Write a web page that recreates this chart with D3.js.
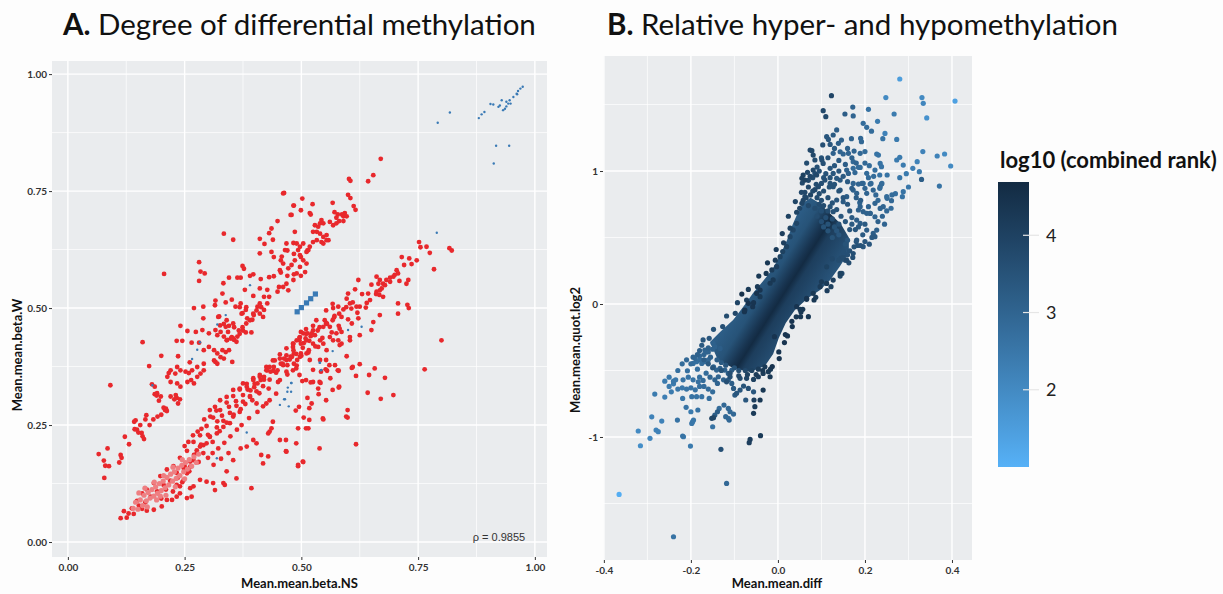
<!DOCTYPE html>
<html>
<head>
<meta charset="utf-8">
<script src="https://cdn.jsdelivr.net/npm/d3@7"></script>
<style>
  body { margin: 0; background: #fdfdfd; }
  text { font-family: Lato, "Open Sans", sans-serif; }
</style>
</head>
<body>
<div class="container"></div>
<script>
// ---- Panel A data: [Mean.mean.beta.NS, Mean.mean.beta.W] ----
const redA = [
[0.066,0.188],[0.077,0.174],[0.08,0.163],[0.078,0.137],[0.085,0.2],[0.088,0.162],[0.091,0.335],[0.11,0.17],[0.113,0.186],[0.115,0.18],[0.122,0.225],
[0.131,0.209],[0.143,0.241],[0.148,0.24],[0.151,0.234],[0.158,0.233],[0.16,0.226],[0.163,0.22],[0.168,0.271],[0.166,0.262],[0.145,0.26],[0.142,0.257],
[0.155,0.25],[0.175,0.25],[0.183,0.262],[0.192,0.268],[0.2,0.272],[0.21,0.285],[0.16,0.427],[0.174,0.376],[0.18,0.337],[0.186,0.316],[0.19,0.313],
[0.195,0.302],[0.2,0.398],[0.205,0.287],[0.208,0.282],[0.212,0.28],[0.206,0.573],[0.22,0.342],[0.228,0.305],[0.233,0.308],[0.236,0.296],[0.24,0.305],
[0.23,0.36],[0.22,0.367],[0.216,0.361],[0.213,0.353],[0.234,0.374],[0.241,0.367],[0.252,0.364],[0.259,0.361],[0.266,0.367],[0.186,0.332],[0.191,0.318],
[0.199,0.311],[0.22,0.311],[0.231,0.314],[0.234,0.339],[0.241,0.332],[0.256,0.342],[0.264,0.346],[0.27,0.339],[0.277,0.353],[0.284,0.36],
[0.236,0.397],[0.261,0.384],[0.277,0.374],[0.291,0.381],[0.291,0.367],[0.313,0.388],[0.316,0.385],[0.32,0.381],[0.327,0.395],[0.334,0.392],[0.352,0.385],
[0.233,0.43],[0.245,0.43],[0.265,0.426],[0.281,0.426],[0.291,0.41],[0.302,0.417],[0.313,0.41],[0.32,0.403],[0.331,0.41],[0.338,0.406],[0.345,0.41],
[0.241,0.462],[0.256,0.451],[0.274,0.449],[0.288,0.453],[0.302,0.446],[0.316,0.453],[0.32,0.442],[0.327,0.449],[0.334,0.439],[0.341,0.432],[0.349,0.435],
[0.356,0.432],[0.363,0.439],[0.27,0.5],[0.29,0.503],[0.29,0.478],[0.324,0.482],[0.334,0.466],[0.345,0.462],[0.356,0.459],[0.366,0.452],[0.374,0.459],
[0.381,0.448],[0.393,0.448],[0.316,0.516],[0.338,0.512],[0.351,0.518],[0.359,0.503],[0.37,0.51],[0.374,0.489],[0.381,0.496],[0.384,0.478],[0.395,0.475],
[0.398,0.485],[0.406,0.503],[0.411,0.51],[0.42,0.496],[0.427,0.51],[0.315,0.506],[0.322,0.481],[0.326,0.463],[0.338,0.46],[0.343,0.449],[0.351,0.438],
[0.354,0.435],[0.361,0.428],[0.368,0.445],[0.375,0.452],[0.382,0.467],[0.39,0.474],[0.397,0.488],[0.404,0.495],[0.414,0.502],[0.34,0.431],[0.34,0.474],
[0.354,0.467],[0.372,0.488],[0.368,0.502],[0.382,0.502],[0.411,0.488],[0.418,0.481],[0.331,0.531],[0.379,0.539],[0.397,0.526],[0.411,0.542],[0.42,0.524],
[0.427,0.539],[0.431,0.524],[0.449,0.535],[0.452,0.545],[0.333,0.553],[0.345,0.565],[0.363,0.565],[0.37,0.565],[0.39,0.569],[0.397,0.572],[0.413,0.562],
[0.431,0.566],[0.441,0.568],[0.456,0.576],[0.47,0.569],[0.484,0.572],[0.499,0.569],[0.281,0.598],[0.284,0.578],[0.293,0.574],[0.281,0.558],[0.374,0.59],
[0.377,0.584],[0.411,0.617],[0.436,0.62],[0.441,0.609],[0.456,0.602],[0.47,0.623],[0.484,0.616],[0.499,0.609],[0.513,0.623],[0.334,0.659],[0.354,0.646],
[0.411,0.648],[0.421,0.637],[0.439,0.646],[0.431,0.66],[0.436,0.67],[0.449,0.686],[0.479,0.699],[0.499,0.709],[0.484,0.719],[0.463,0.746],
[0.543,0.688],[0.54,0.681],[0.547,0.681],[0.536,0.674],[0.529,0.677],[0.525,0.663],[0.533,0.663],[0.54,0.659],[0.547,0.652],[0.554,0.656],[0.558,0.645],
[0.561,0.684],[0.568,0.677],[0.575,0.681],[0.581,0.686],[0.486,0.663],[0.483,0.639],[0.49,0.638],[0.497,0.631],[0.504,0.638],[0.493,0.624],[0.468,0.638],
[0.465,0.624],[0.458,0.61],[0.511,0.62],[0.515,0.624],[0.518,0.631],[0.525,0.641],[0.533,0.645],[0.543,0.641],[0.547,0.638],[0.554,0.645],[0.497,0.613],
[0.504,0.602],[0.511,0.595],[0.486,0.602],[0.479,0.592],[0.472,0.585],[0.497,0.588],[0.508,0.577],[0.461,0.595],[0.454,0.581],[0.49,0.574],[0.483,0.56],
[0.468,0.552],[0.461,0.545],[0.472,0.538],[0.67,0.819],[0.654,0.784],[0.643,0.771],[0.602,0.776],[0.605,0.772],[0.6,0.742],[0.605,0.735],[0.612,0.718],
[0.616,0.71],[0.593,0.703],[0.59,0.696],[0.597,0.696],[0.587,0.7],[0.567,0.725],[0.571,0.705],[0.578,0.7],[0.575,0.693],[0.59,0.686],[0.524,0.722],
[0.502,0.734],[0.483,0.719],[0.461,0.745],[0.477,0.699],[0.518,0.703],[0.52,0.7],
[0.113,0.051],[0.12,0.066],[0.126,0.052],[0.13,0.061],[0.137,0.072],[0.141,0.06],[0.148,0.088],[0.152,0.078],[0.159,0.104],[0.166,0.085],[0.169,0.112],
[0.177,0.097],[0.184,0.126],[0.191,0.108],[0.198,0.141],[0.205,0.122],[0.212,0.155],[0.219,0.131],[0.226,0.162],[0.233,0.148],[0.24,0.18],[0.248,0.158],
[0.255,0.195],[0.262,0.172],[0.269,0.214],[0.276,0.196],[0.283,0.228],[0.29,0.207],[0.297,0.248],[0.304,0.225],[0.311,0.266],[0.319,0.245],[0.326,0.282],
[0.333,0.259],[0.34,0.298],[0.347,0.276],[0.354,0.312],[0.361,0.291],[0.368,0.326],[0.375,0.3],[0.383,0.338],[0.39,0.312],[0.397,0.35],[0.404,0.322],
[0.411,0.357],[0.418,0.333],[0.425,0.374],[0.432,0.347],[0.439,0.388],[0.446,0.362],[0.454,0.401],[0.461,0.378],[0.468,0.414],[0.475,0.39],[0.482,0.424],
[0.489,0.402],[0.496,0.437],[0.503,0.415],[0.51,0.455],[0.517,0.43],[0.525,0.462],
[0.169,0.067],[0.159,0.071],[0.184,0.069],[0.201,0.076],[0.212,0.09],[0.223,0.09],[0.233,0.097],[0.24,0.104],[0.255,0.094],[0.265,0.097],[0.262,0.115],
[0.269,0.119],[0.283,0.133],[0.297,0.129],[0.311,0.126],[0.315,0.111],[0.333,0.126],[0.336,0.122],[0.34,0.151],[0.354,0.175],[0.361,0.136],[0.383,0.204],
[0.393,0.115],[0.397,0.218],[0.404,0.211],[0.414,0.186],[0.418,0.168],[0.429,0.183],[0.429,0.232],[0.432,0.236],[0.436,0.243],[0.439,0.257],[0.454,0.218],
[0.468,0.193],[0.489,0.211],[0.493,0.165],[0.503,0.172],[0.51,0.243],[0.517,0.261],[0.539,0.2],[0.546,0.264],[0.553,0.303],[0.567,0.325],[0.581,0.332],
[0.596,0.268],[0.599,0.282],[0.578,0.367],[0.56,0.378],[0.553,0.389],[0.542,0.364],[0.539,0.342],[0.525,0.342],[0.51,0.346],[0.496,0.357],[0.489,0.371],
[0.482,0.367],[0.468,0.364],[0.454,0.346],[0.432,0.303],[0.425,0.296],[0.446,0.317],[0.404,0.296],[0.39,0.31],[0.368,0.278],[0.354,0.268],[0.347,0.254],
[0.333,0.246],[0.319,0.232],[0.304,0.225],[0.297,0.211],[0.283,0.204],[0.276,0.19],[0.269,0.175],[0.262,0.161],[0.255,0.147],[0.248,0.133],[0.24,0.119],
[0.233,0.122],[0.304,0.282],[0.315,0.289],[0.326,0.303],[0.34,0.31],[0.354,0.325],[0.368,0.328],[0.375,0.339],[0.383,0.332],[0.397,0.346],[0.411,0.353],
[0.425,0.367],[0.432,0.374],[0.443,0.388],[0.454,0.392],[0.468,0.399],[0.482,0.417],[0.496,0.431],[0.51,0.445],[0.525,0.452],[0.539,0.459],[0.553,0.467],
[0.567,0.474],[0.581,0.488],[0.596,0.502],[0.532,0.474],[0.553,0.495],[0.567,0.509],
[0.752,0.641],[0.755,0.63],[0.768,0.631],[0.775,0.618],[0.784,0.583],[0.817,0.628],[0.822,0.623],[0.715,0.609],[0.731,0.606],[0.736,0.594],[0.747,0.602],
[0.704,0.581],[0.707,0.574],[0.697,0.567],[0.69,0.565],[0.682,0.56],[0.729,0.56],[0.725,0.552],[0.661,0.567],[0.668,0.56],[0.675,0.552],[0.679,0.549],
[0.665,0.552],[0.672,0.542],[0.668,0.538],[0.661,0.535],[0.667,0.528],[0.675,0.524],[0.622,0.56],[0.615,0.54],[0.6,0.531],[0.597,0.52],[0.604,0.51],
[0.607,0.499],[0.618,0.503],[0.625,0.503],[0.638,0.501],[0.643,0.531],[0.647,0.517],[0.654,0.47],[0.668,0.485],[0.707,0.51],[0.727,0.507],[0.73,0.5],
[0.707,0.488],[0.622,0.478],[0.608,0.467],[0.586,0.481],[0.579,0.503],[0.568,0.5],[0.571,0.483],[0.55,0.474],[0.554,0.467],[0.561,0.46],[0.547,0.46],
[0.522,0.446],[0.529,0.442],[0.582,0.456],[0.586,0.449],[0.575,0.446],[0.579,0.431],[0.586,0.424],[0.604,0.438],[0.625,0.442],[0.65,0.453],[0.8,0.431],
[0.504,0.446],[0.497,0.438],[0.49,0.431],[0.483,0.424],[0.511,0.431],[0.525,0.424],[0.54,0.431],[0.547,0.424],[0.561,0.438],[0.568,0.431],[0.604,0.431],
[0.764,0.369],[0.679,0.351],[0.697,0.314],[0.67,0.306],[0.657,0.371],[0.645,0.357],[0.642,0.319],[0.625,0.38],[0.617,0.355],[0.608,0.372],[0.61,0.374],
[0.597,0.397],[0.58,0.366],[0.58,0.33],[0.572,0.378],[0.562,0.35],[0.555,0.366],[0.552,0.369],[0.541,0.34],[0.537,0.316],[0.536,0.328],[0.52,0.341],
[0.522,0.296],[0.517,0.286],[0.513,0.308],[0.502,0.344],[0.505,0.266],[0.495,0.289],[0.488,0.281],[0.493,0.243],[0.515,0.243],[0.547,0.262],[0.599,0.266],
[0.617,0.209],[0.493,0.162],[0.504,0.171],[0.467,0.218],[0.467,0.194],[0.483,0.41],[0.511,0.403],[0.536,0.417],[0.554,0.41],[0.582,0.421],[0.468,0.389],
[0.497,0.396],[0.518,0.389],[0.54,0.389],[0.525,0.368],
[0.2,0.093],[0.21,0.112],[0.225,0.108],[0.235,0.137],[0.245,0.128],[0.25,0.162],[0.26,0.151],[0.27,0.186],[0.28,0.171],[0.285,0.208],[0.29,0.19],
[0.3,0.229],[0.31,0.214],[0.32,0.258],[0.325,0.237],[0.33,0.27],[0.34,0.255],[0.345,0.289],[0.355,0.272],[0.36,0.301],[0.37,0.284],[0.375,0.314],
[0.38,0.295],[0.385,0.326],[0.395,0.303],[0.4,0.338],[0.41,0.318],[0.42,0.347],[0.43,0.328],[0.44,0.366],[0.45,0.342],[0.46,0.381],[0.47,0.358],
[0.48,0.396],[0.49,0.377],[0.5,0.398],[0.505,0.425],[0.515,0.405],[0.52,0.44],[0.53,0.418],[0.535,0.452],[0.545,0.436],[0.555,0.466],[0.565,0.448],
[0.57,0.48],[0.58,0.462],[0.59,0.497],[0.6,0.476],[0.61,0.512],[0.62,0.49],[0.63,0.53],[0.64,0.511],[0.65,0.55],[0.66,0.53],[0.69,0.556],[0.7,0.571],
[0.71,0.558],[0.72,0.592],
[0.499,0.449],[0.513,0.446],[0.509,0.435],[0.499,0.424],[0.516,0.41],[0.499,0.403],[0.484,0.403],[0.477,0.396],[0.491,0.389],[0.484,0.381],[0.47,0.378],
[0.463,0.392],[0.456,0.381],[0.449,0.367],[0.441,0.374],[0.434,0.364],[0.427,0.367],[0.42,0.353],[0.413,0.346],[0.406,0.339],[0.399,0.331],[0.391,0.324],
[0.292,0.262],[0.305,0.268],[0.318,0.281],[0.286,0.242],[0.278,0.236],[0.268,0.228],[0.258,0.214],[0.25,0.205],[0.3,0.18],[0.31,0.19],[0.322,0.2],
[0.335,0.212],[0.348,0.226],[0.362,0.24],[0.372,0.25],[0.388,0.265],[0.406,0.278],[0.418,0.29],[0.312,0.165],[0.328,0.178],[0.344,0.19],[0.37,0.2]
];
// lighter points in the dense low-beta region
const pinkA = [
[0.14,0.072],[0.145,0.085],[0.15,0.07],[0.155,0.09],[0.16,0.078],[0.163,0.1],[0.168,0.088],[0.172,0.106],[0.176,0.094],[0.18,0.112],[0.184,0.098],
[0.188,0.118],[0.192,0.104],[0.196,0.125],[0.2,0.11],[0.204,0.13],[0.208,0.116],[0.212,0.138],[0.216,0.122],[0.22,0.145],[0.224,0.13],[0.228,0.15],
[0.232,0.136],[0.236,0.158],[0.24,0.142],[0.244,0.164],[0.248,0.15],[0.252,0.17],[0.256,0.156],[0.26,0.176],[0.265,0.162],[0.27,0.182],[0.275,0.17],
[0.28,0.188],[0.17,0.075],[0.19,0.09],[0.21,0.1],[0.23,0.118],[0.25,0.135],[0.165,0.115],[0.185,0.128],[0.205,0.142],[0.225,0.16],[0.245,0.176],
[0.152,0.105],[0.198,0.098]
];
const blueDotsA = [
[0.974,0.973],[0.969,0.969],[0.964,0.964],[0.961,0.958],[0.954,0.951],[0.946,0.944],[0.943,0.937],[0.939,0.931],[0.936,0.926],[0.932,0.923],[0.925,0.933],
[0.922,0.93],[0.929,0.944],[0.939,0.941],[0.948,0.937],[0.962,0.957],[0.911,0.935],[0.905,0.936],[0.892,0.919],[0.886,0.914],[0.88,0.906],[0.818,0.918],
[0.792,0.896],[0.917,0.847],[0.945,0.847],[0.912,0.809],[0.79,0.661],[0.629,0.46],[0.6,0.453],[0.39,0.549],[0.338,0.485],[0.32,0.465],[0.283,0.427],
[0.277,0.411],[0.266,0.391],[0.181,0.335],[0.383,0.234],[0.319,0.179],[0.478,0.34],[0.471,0.33],[0.47,0.321],[0.478,0.321],[0.463,0.305],[0.454,0.293],
[0.473,0.29],[0.539,0.383],[0.542,0.367],[0.567,0.408],[0.54,0.383],[0.543,0.368],[0.479,0.34],[0.465,0.305]
];
const blueSquaresA = [[0.491,0.492],[0.5,0.501],[0.511,0.511],[0.52,0.52],[0.53,0.53]];
const ticksA = [0, 0.25, 0.5, 0.75, 1];
const tickLabelsA = ["0.00", "0.25", "0.50", "0.75", "1.00"];
const minorA = [0.125, 0.375, 0.625, 0.875];
const rhoLabel = "\u03c1 = 0.9855";

// ---- Panel B data: [Mean.mean.diff, Mean.mean.quot.log2, log10 combined rank] ----
const ptsB = [
[0.28,1.692,1.5],[0.407,1.526,1.4],[0.248,1.552,2.0],[0.331,1.552,2.0],[0.334,1.509,2.1],[0.342,1.399,1.8],[0.123,1.567,3.9],[0.172,1.481,3.0],
[0.154,1.429,3.2],[0.173,1.414,3.0],[0.208,1.464,2.6],[0.104,1.454,3.8],[0.11,1.409,3.8],[0.267,1.429,2.4],[0.196,1.359,2.8],[0.204,1.329,2.8],
[0.229,1.374,2.4],[0.215,1.3,2.8],[0.246,1.283,2.2],[0.241,1.243,2.6],[0.273,1.238,2.4],[0.135,1.309,3.2],[0.127,1.271,3.3],[0.112,1.258,3.4],
[0.116,1.238,3.4],[0.146,1.233,3.1],[0.139,1.208,3.2],[0.169,1.243,3.0],[0.19,1.246,2.9],[0.192,1.221,2.9],[0.103,1.196,3.6],[0.2,1.146,2.8],
[0.15,1.128,3.0],[0.143,1.145,3.0],[0.162,1.133,3.0],[0.127,1.133,3.1],[0.189,1.133,2.9],[0.227,1.128,2.6],[0.231,1.12,2.6],[0.28,1.103,2.4],
[0.273,1.083,2.4],[0.333,1.146,2.2],[0.366,1.113,2.2],[0.383,1.128,2.0],[0.397,1.038,2.0],[0.32,1.07,2.2],[0.325,0.995,2.4],[0.33,0.937,3.2],
[0.371,0.887,2.6],[0.288,1.045,2.4],[0.238,1.033,2.6],[0.234,0.97,2.6],[0.251,0.97,2.6],[0.235,1.057,2.6],[0.223,1.007,2.7],[0.173,1.02,2.8],
[0.185,1.028,2.8],[0.177,0.988,2.9],[0.189,1.027,2.8],[0.173,1.07,2.9],[0.204,0.983,2.8],[0.208,0.95,2.8],[0.196,0.907,2.9],[0.214,0.907,2.8],
[0.238,0.902,2.8],[0.234,0.87,2.8],[0.251,0.795,2.8],[0.261,0.777,2.9],[0.288,0.845,2.6],[0.286,0.807,2.6],[0.223,0.757,3.0],[0.208,0.732,3.0],
[0.212,0.682,3.0],[0.188,0.762,3.0],[0.185,0.707,3.1],[0.204,0.682,3.1],[0.074,1.158,3.8],[0.078,1.153,3.8],[0.081,1.12,3.8],[0.085,1.083,3.7],
[0.101,1.083,3.6],[0.104,1.057,3.6],[0.12,1.02,3.4],[0.127,0.982,3.4],[0.135,0.945,3.3],[0.143,0.932,3.3],[0.158,1.007,3.1],[0.162,0.982,3.1],
[0.058,0.97,4.0],[0.055,0.945,4.0],[0.062,0.932,4.0],[0.089,0.97,3.8],[0.081,1.007,3.8],[0.108,0.932,3.6],[0.1,0.907,3.6],[0.093,0.882,3.7],
[0.12,0.907,3.5],[0.127,0.882,3.5],[0.143,0.857,3.4],[0.173,0.907,3.0],[0.185,0.902,3.0],[0.193,0.907,3.0],[0.212,0.902,2.9],[0.173,0.857,3.1],
[0.181,0.832,3.1],[0.204,0.832,3.0],[0.219,0.857,3.0],[0.235,0.882,2.8],[0.239,0.907,2.8],[0.25,0.807,2.8],[0.262,0.82,2.8],[0.158,0.807,3.2],
[0.15,0.769,3.3],[0.135,0.782,3.4],[0.12,0.732,3.5],[0.127,0.694,3.5],[0.189,0.732,3.1],[0.196,0.694,3.1],[0.212,0.681,3.1],[0.223,0.656,3.0],
[0.235,0.719,3.0],[0.242,0.732,3.0],[0.181,0.631,3.2],[0.189,0.606,3.2],[0.204,0.556,3.2],[0.219,0.531,3.2],[0.227,0.556,3.1],[0.216,0.501,3.3],
[0.16,0.48,3.4],[0.155,0.45,3.5],[0.175,0.43,3.5],[0.18,0.47,3.4],[0.19,0.44,3.5],[0.165,0.4,3.6],[0.16,0.37,3.6],[0.145,0.345,3.7],[0.155,0.33,3.7],
[0.14,0.33,3.7],[0.15,0.35,3.7],[0.125,0.34,3.8],[0.135,0.55,3.4],[0.14,0.52,3.4],[0.125,0.5,3.5],[0.115,0.55,3.5],[0.105,0.58,3.5],[0.115,0.6,3.5],
[0.1,0.62,3.6],[0.13,0.58,3.5],[0.09,0.66,3.7],[0.1,0.7,3.6],[0.11,0.65,3.6],[0.05,0.72,3.9],[0.058,0.78,3.9],[0.062,0.84,3.8],[0.07,0.88,3.8],
[0.074,0.96,3.8],[0.065,0.8,3.8],[0.08,0.85,3.7],[0.09,0.8,3.7],[0.095,0.75,3.7],[0.085,0.72,3.7],[0.1,0.78,3.6],[0.07,0.74,3.8],
[0.112,0.28,4.0],[0.158,0.33,3.8],[0.173,0.38,3.6],[0.143,0.23,4.0],[0.127,0.18,4.1],[0.112,0.155,4.2],[0.097,0.13,4.2],[0.081,0.08,4.3],[0.066,0.043,4.4],
[0.15,0.393,3.6],[0.181,0.481,3.4],[0.196,0.431,3.4],[0.223,0.506,3.3],
[0.12,1.2,3.4],[0.13,1.17,3.3],[0.115,1.1,3.5],[0.14,1.08,3.3],[0.155,1.05,3.2],[0.16,1.17,3.1],[0.175,1.15,3.0],[0.17,1.1,3.1],[0.18,1.06,3.0],
[0.2,1.06,2.9],[0.21,1.04,2.8],[0.22,0.96,2.8],[0.2,0.87,3.0],[0.225,0.82,2.9],[0.23,0.78,2.9],[0.24,0.66,3.0],[0.25,0.7,2.9],[0.245,0.6,3.0],
[0.23,0.62,3.1],[0.26,0.72,2.8],[0.27,0.83,2.7],[0.28,0.95,2.5],[0.3,0.88,2.5],[0.31,1.02,2.3],[0.295,0.98,2.4],
[0.085,0.98,3.6],[0.095,1.0,3.6],[0.11,0.98,3.5],[0.12,0.95,3.5],[0.13,0.9,3.5],[0.14,0.85,3.5],[0.15,0.8,3.4],[0.16,0.75,3.4],[0.165,0.7,3.4],
[0.17,0.65,3.3],[0.09,1.03,3.6],[0.1,1.1,3.5],[0.13,1.04,3.4],[0.14,1.0,3.4],[0.15,0.96,3.3],[0.16,0.92,3.3],[0.17,0.87,3.2],[0.18,0.8,3.2],
[0.19,0.78,3.2],[0.2,0.6,3.3],[0.195,0.52,3.3],[0.2,0.47,3.4],[0.21,0.45,3.4],[0.185,0.58,3.3],[0.17,0.6,3.3],
[0.075,0.82,3.9],[0.085,0.86,3.8],[0.095,0.83,3.7],[0.105,0.85,3.6],[0.115,0.8,3.6],[0.125,0.76,3.5],[0.135,0.71,3.5],[0.145,0.66,3.4],[0.155,0.62,3.4],
[0.165,0.56,3.4],[0.105,0.74,3.7],[0.115,0.7,3.7],[0.125,0.64,3.6],[0.14,0.6,3.6],[0.07,0.93,3.8],[0.08,0.95,3.7],[0.105,0.95,3.5],[0.118,0.88,3.5],
[0.088,0.9,3.7],
[-0.172,-0.27,3.4],[-0.158,-0.258,3.4],[-0.148,-0.19,3.5],[-0.127,-0.17,3.6],[-0.118,-0.09,3.7],[-0.098,-0.07,3.8],[-0.093,0.01,3.9],[-0.072,0.03,4.1],
[-0.068,0.11,4.2],[-0.047,0.13,4.2],[-0.044,0.21,4.3],[-0.027,0.23,4.3],[-0.024,0.31,4.3],[-0.006,0.33,4.2],[-0.004,0.41,4.2],[0.013,0.46,4.1],
[0.01,0.53,4.1],[0.028,0.57,4.0],[0.024,0.66,4.0],[0.043,0.69,3.9],[0.04,0.77,3.9],[0.054,0.84,3.8],[0.056,0.91,3.8],[0.068,0.99,3.8],[0.066,1.06,3.7],
[0.178,0.56,3.4],[0.183,0.44,3.5],[0.172,0.35,3.6],[0.163,0.31,3.7],[0.147,0.23,3.8],[0.143,0.21,3.9],[0.122,0.13,4.0],[0.113,0.1,4.1],[0.087,0.05,4.2],
[0.083,0.03,4.3],[0.057,-0.04,4.3],[0.053,-0.06,4.3],[0.032,-0.13,4.4],[0.033,-0.17,4.4],[0.017,-0.23,4.4],[0.015,-0.29,4.4],[0.002,-0.36,4.4],
[0.003,-0.41,4.4],[-0.013,-0.47,4.4],[-0.017,-0.49,4.3],
[-0.16,-0.45,3.3],[-0.15,-0.48,3.4],[-0.13,-0.5,3.5],[-0.11,-0.52,3.6],[-0.09,-0.54,3.8],[-0.07,-0.53,4.0],[-0.05,-0.53,4.2],[-0.035,-0.5,4.3],
[-0.18,-0.35,3.2],[-0.185,-0.38,3.1],[-0.175,-0.31,3.3],[-0.17,-0.42,3.2],[-0.195,-0.4,3.0],[-0.21,-0.42,2.9],[-0.22,-0.45,2.8],[-0.23,-0.5,2.7],
[-0.25,-0.55,2.5],[-0.26,-0.58,2.4],[-0.25,-0.62,2.4],[-0.245,-0.66,2.4],[-0.26,-0.7,2.3],
[-0.365,-1.432,1.1],[-0.24,-1.75,2.6],[-0.118,-1.349,2.9],[-0.131,-1.093,3.6],[-0.201,-1.068,2.4],[-0.219,-0.993,2.6],[-0.316,-1.066,1.9],
[-0.321,-0.955,2.0],[-0.294,-1.01,2.1],[-0.28,-0.948,2.2],[-0.275,-0.96,2.2],[-0.29,-0.848,2.2],[-0.267,-0.88,2.2],[-0.283,-0.677,2.4],
[-0.231,-0.873,2.6],[-0.194,-0.873,2.5],[-0.198,-0.898,2.5],[-0.2,-0.81,2.4],[-0.211,-0.777,2.6],[-0.184,-0.797,2.6],[-0.152,-0.86,3.9],
[-0.148,-0.855,3.8],[-0.145,-0.835,3.2],[-0.139,-0.81,3.2],[-0.15,-0.923,2.6],[-0.135,-0.785,2.8],[-0.124,-0.76,2.9],[-0.114,-0.785,2.9],
[-0.11,-0.81,2.9],[-0.102,-0.828,2.9],[-0.114,-0.86,2.8],[-0.064,-1.018,4.1],[-0.066,-1.043,4.1],[-0.04,-0.99,4.2],[-0.056,-0.822,4.2],
[-0.053,-0.772,4.2],[-0.055,-0.722,4.1],[-0.041,-0.722,4.3],[-0.034,-0.647,4.3],[-0.074,-0.722,3.4],[-0.056,-0.66,3.4],[-0.198,-0.697,2.6],
[-0.187,-0.697,2.6],[-0.175,-0.697,2.6],[-0.158,-0.71,2.7],[-0.219,-0.71,2.5],[-0.217,-0.998,2.4],[-0.196,-0.885,2.4],[-0.12,-0.847,2.9],[-0.112,-0.873,2.9],
[-0.23,-0.64,2.5],[-0.22,-0.63,2.5],[-0.21,-0.64,2.6],[-0.2,-0.63,2.6],[-0.19,-0.645,2.6],[-0.18,-0.62,2.7],[-0.17,-0.62,2.8],[-0.16,-0.64,2.8],
[-0.15,-0.66,2.8],[-0.24,-0.6,2.4],[-0.235,-0.57,2.5],[-0.24,-0.58,2.5],[-0.218,-0.57,2.6],[-0.206,-0.55,2.6],[-0.195,-0.57,2.6],[-0.18,-0.55,2.7],
[-0.165,-0.52,2.8],[-0.172,-0.575,2.8],[-0.185,-0.49,2.7],[-0.183,-0.585,2.7],[-0.156,-0.55,3.0],[-0.145,-0.57,3.0],[-0.139,-0.597,3.0],
[-0.137,-0.547,3.0],[-0.125,-0.57,3.1],[-0.114,-0.57,3.2],[-0.106,-0.597,3.2],[-0.102,-0.635,3.3],[-0.099,-0.685,3.3],[-0.095,-0.672,3.4],
[-0.087,-0.647,3.4],[-0.079,-0.617,3.5],[-0.068,-0.635,3.6],[-0.195,-0.447,2.7],[-0.187,-0.434,2.7],[-0.179,-0.42,2.8],[-0.175,-0.447,2.8],
[-0.168,-0.434,2.8],[-0.16,-0.42,2.9],[-0.148,-0.472,3.0],[-0.141,-0.497,3.0],[-0.133,-0.484,3.1],[-0.122,-0.497,3.1],[-0.114,-0.522,3.2],
[-0.106,-0.497,3.2],[-0.118,-0.585,3.6],[-0.11,-0.547,3.6],[-0.087,-0.559,3.7],[-0.072,-0.559,3.9],[-0.056,-0.567,4.0],[-0.045,-0.547,4.1],
[-0.034,-0.522,4.2],[-0.022,-0.509,4.2],[-0.018,-0.547,4.3],[-0.03,-0.472,4.2],[-0.208,-0.502,2.7],[-0.168,-0.346,3.0],[-0.149,-0.296,3.1],
[-0.145,-0.321,3.1],[-0.133,-0.334,3.2],[-0.2,-0.45,2.8],[-0.19,-0.41,2.9],[-0.18,-0.39,2.9],[-0.17,-0.38,3.0],[-0.16,-0.36,3.0],[-0.155,-0.4,3.1],
[-0.14,-0.42,3.2],[-0.13,-0.44,3.3],[-0.12,-0.46,3.4],[-0.1,-0.48,3.5],[-0.09,-0.5,3.6],[-0.075,-0.5,3.8],[-0.06,-0.5,4.0],[-0.045,-0.49,4.2],
[-0.16,-0.33,3.1],[-0.15,-0.34,3.1],[-0.165,-0.36,3.0],
[-0.083,0.075,4.5],[-0.077,-0.058,4.4],[-0.068,0.005,4.4],[-0.056,0.01,4.4],[-0.049,0.08,4.4],[-0.041,0.105,4.4],[-0.008,-0.246,4.4],[0.042,-0.096,4.3],
[0.051,-0.041,4.3],[0.066,0.035,4.3],[0.1,0.167,4.2],[-0.058,-0.02,4.4],[-0.076,-0.045,4.4],[-0.041,0.055,4.3],[-0.018,0.156,4.3],[-0.011,0.181,4.3],
[0.043,-0.02,4.4],[0.07,-0.095,4.3],[0.052,-0.095,4.3],[0.022,-0.24,4.4],[-0.014,0.256,4.2],[-0.003,0.281,4.1],[0.005,0.356,4.0],[0.011,0.394,4.0],
[0.02,0.431,4.0],[0.028,0.506,3.9],[0.035,0.557,3.9],[0.043,0.607,3.9],[0.055,0.757,3.9],[0.062,0.807,3.8]
];
// outline of the dense, overplotted core of panel B
const coreB = [
[-0.156,-0.286],[-0.133,-0.211],[-0.103,-0.12],[-0.08,-0.023],[-0.057,0.083],[-0.034,0.173],[-0.014,0.256],[0.002,0.346],[0.021,0.481],
[0.034,0.6],[0.045,0.68],[0.058,0.76],[0.075,0.8],[0.095,0.76],[0.12,0.68],[0.145,0.6],[0.163,0.5],[0.163,0.391],[0.143,0.286],
[0.12,0.18],[0.097,0.105],[0.069,0.045],[0.039,-0.045],[0.018,-0.143],[0.002,-0.256],[-0.011,-0.376],[-0.03,-0.466],[-0.064,-0.511],
[-0.103,-0.481],[-0.138,-0.421]
];
const ticksBx = [-0.4, -0.2, 0, 0.2, 0.4];
const tickLabelsBx = ["-0.4", "-0.2", "0.0", "0.2", "0.4"];
const minorBx = [-0.3, -0.1, 0.1, 0.3];
const ticksBy = [-1, 0, 1];
const minorBy = [-1.5, -0.5, 0.5, 1.5];
const legendTicks = [2, 3, 4];
const rankDomain = [1.0, 4.69];

const W = 1223, H = 594;
const svg = d3.select(".container").append("svg").attr("width", W).attr("height", H);
const defs = svg.append("defs");

// draws the grey panel, white grid and tick labels
function drawPanel(x, y, xt, xl, xm, yt, yl, ym) {
  const g = svg.append("g");
  const [x0, x1] = x.range(), [y0, y1] = y.range();
  g.append("rect").attr("x", x0).attr("y", y1).attr("width", x1 - x0).attr("height", y0 - y1).attr("fill", "#eaecee");
  g.selectAll(".vmin").data(xm).enter().append("line")
    .attr("x1", d => x(d)).attr("x2", d => x(d)).attr("y1", y0).attr("y2", y1)
    .attr("stroke", "#fff").attr("stroke-width", 0.7);
  g.selectAll(".hmin").data(ym).enter().append("line")
    .attr("y1", d => y(d)).attr("y2", d => y(d)).attr("x1", x0).attr("x2", x1)
    .attr("stroke", "#fff").attr("stroke-width", 0.7);
  g.selectAll(".vmaj").data(xt).enter().append("line")
    .attr("x1", d => x(d)).attr("x2", d => x(d)).attr("y1", y0).attr("y2", y1)
    .attr("stroke", "#fff").attr("stroke-width", 1.4);
  g.selectAll(".hmaj").data(yt).enter().append("line")
    .attr("y1", d => y(d)).attr("y2", d => y(d)).attr("x1", x0).attr("x2", x1)
    .attr("stroke", "#fff").attr("stroke-width", 1.4);

  const ax = g.append("g").attr("transform", `translate(0,${y0})`)
    .call(d3.axisBottom(x).tickValues(xt).tickFormat((d, i) => xl[i]).tickSize(3).tickPadding(4));
  const ay = g.append("g").attr("transform", `translate(${x0},0)`)
    .call(d3.axisLeft(y).tickValues(yt).tickFormat((d, i) => yl[i]).tickSize(3).tickPadding(2));
  [ax, ay].forEach(a => {
    a.select(".domain").remove();
    a.selectAll("line").attr("stroke", "#333");
    a.selectAll("text").attr("fill", "#333").attr("font-size", 10).attr("font-weight", "bold")
      .style("font-family", "Lato, sans-serif");
  });
  return g;
}

// ---------- Panel A ----------
const xA = d3.scaleLinear().domain([-0.034, 1.026]).range([52, 547]);
const yA = d3.scaleLinear().domain([-0.032, 1.028]).range([557, 61]);
const gA = drawPanel(xA, yA, ticksA, tickLabelsA, minorA, ticksA, tickLabelsA, minorA);

gA.append("g").selectAll("circle").data(redA).enter().append("circle")
  .attr("cx", d => xA(d[0])).attr("cy", d => yA(d[1])).attr("r", 2.4).attr("fill", "#e8282c");
gA.append("g").selectAll("circle").data(pinkA).enter().append("circle")
  .attr("cx", d => xA(d[0])).attr("cy", d => yA(d[1])).attr("r", 2.6).attr("fill", "#ee7f82");
gA.append("g").selectAll("circle").data(blueDotsA).enter().append("circle")
  .attr("cx", d => xA(d[0])).attr("cy", d => yA(d[1])).attr("r", 1.2).attr("fill", "#3a7ab5");
gA.append("g").selectAll("rect").data(blueSquaresA).enter().append("rect")
  .attr("x", d => xA(d[0]) - 2.6).attr("y", d => yA(d[1]) - 2.6).attr("width", 5.2).attr("height", 5.2).attr("fill", "#3a7ab5");

gA.append("text").attr("x", xA(0.867)).attr("y", yA(0.002)).text(rhoLabel)
  .attr("font-size", 11).attr("fill", "#333").style("font-family", "'Liberation Sans Narrow', 'Liberation Sans', sans-serif");

svg.append("text").attr("x", (52 + 547) / 2).attr("y", 588).attr("text-anchor", "middle")
  .attr("font-size", 13).attr("font-weight", "bold").attr("fill", "#111").text("Mean.mean.beta.NS");
svg.append("text").attr("transform", "translate(22,355) rotate(-90)").attr("text-anchor", "middle")
  .attr("font-size", 13).attr("font-weight", "bold").attr("fill", "#111").text("Mean.mean.beta.W");

const tA = svg.append("text").attr("x", 63).attr("y", 35).attr("font-size", 29.5).attr("fill", "#111");
tA.append("tspan").attr("font-weight", "bold").text("A.");
tA.append("tspan").text(" Degree of differential methylation");

// ---------- Panel B ----------
const xB = d3.scaleLinear().domain([-0.402, 0.446]).range([603, 972]);
const yB = d3.scaleLinear().domain([-1.925, 1.865]).range([560, 56]);
const gB = drawPanel(xB, yB, ticksBx, tickLabelsBx, minorBx, ticksBy, ticksBy.map(String), minorBy);

const colour = d3.scaleLinear().domain(rankDomain).range(["#56B1F7", "#132B43"]).interpolate(d3.interpolateLab);

// gradient across the core band: dark along its ridge, lighter at its flanks
const cx = xB(0.0), cy = yB(0.03);
const core = defs.append("linearGradient").attr("id", "coreGrad").attr("gradientUnits", "userSpaceOnUse")
  .attr("x1", cx - 40 * 0.843).attr("y1", cy - 40 * 0.537).attr("x2", cx + 40 * 0.843).attr("y2", cy + 40 * 0.537);
[[0, 3.0], [0.3, 3.5], [0.46, 4.4], [0.52, 4.69], [0.6, 4.1], [1, 3.3]].forEach(s =>
  core.append("stop").attr("offset", s[0]).attr("stop-color", colour(s[1])));

gB.append("path").datum(coreB)
  .attr("d", d3.line().x(d => xB(d[0])).y(d => yB(d[1])).curve(d3.curveLinearClosed))
  .attr("fill", "url(#coreGrad)");

gB.append("g").selectAll("circle").data(ptsB.slice().sort((a, b) => a[2] - b[2])).enter().append("circle")
  .attr("cx", d => xB(d[0])).attr("cy", d => yB(d[1])).attr("r", 2.6).attr("fill", d => colour(d[2]));

svg.append("text").attr("x", 777).attr("y", 588).attr("text-anchor", "middle")
  .attr("font-size", 13).attr("font-weight", "bold").attr("fill", "#111").text("Mean.mean.diff");
svg.append("text").attr("transform", "translate(580,350) rotate(-90)").attr("text-anchor", "middle")
  .attr("font-size", 13).attr("font-weight", "bold").attr("fill", "#111").text("Mean.mean.quot.log2");

const tB = svg.append("text").attr("x", 607).attr("y", 35).attr("font-size", 29.5).attr("fill", "#111");
tB.append("tspan").attr("font-weight", "bold").text("B.");
tB.append("tspan").text(" Relative hyper- and hypomethylation");

// ---------- colour bar legend ----------
const lg = svg.append("g");
const yL = d3.scaleLinear().domain(rankDomain).range([467, 182]);
const bar = defs.append("linearGradient").attr("id", "barGrad").attr("x1", 0).attr("x2", 0).attr("y1", 1).attr("y2", 0);
d3.range(0, 1.0001, 0.1).forEach(t =>
  bar.append("stop").attr("offset", t).attr("stop-color", colour(rankDomain[0] + t * (rankDomain[1] - rankDomain[0]))));
lg.append("rect").attr("x", 998).attr("y", yL(rankDomain[1])).attr("width", 31)
  .attr("height", yL(rankDomain[0]) - yL(rankDomain[1])).attr("fill", "url(#barGrad)");
lg.selectAll(".lt").data(legendTicks).enter().append("line")
  .attr("x1", 1023).attr("x2", 1039).attr("y1", d => yL(d)).attr("y2", d => yL(d))
  .attr("stroke", "#e6e6e6").attr("stroke-width", 1.2);
lg.selectAll(".ll").data(legendTicks).enter().append("text")
  .attr("x", 1046).attr("y", d => yL(d)).attr("dy", "0.35em").attr("font-size", 18).attr("fill", "#222").text(d => d);
lg.append("text").attr("x", 1000).attr("y", 168).attr("font-size", 22).attr("font-weight", "bold").attr("fill", "#111")
  .text("log10 (combined rank)");
</script>
</body>
</html>
